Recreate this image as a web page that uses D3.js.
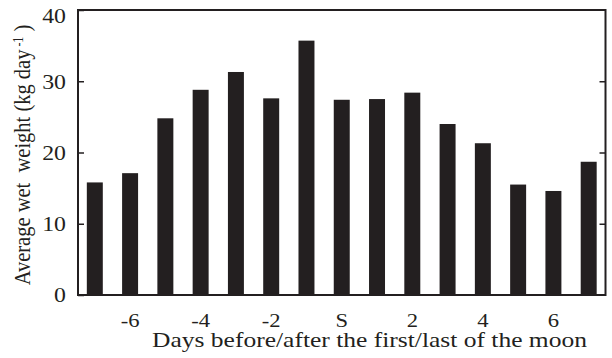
<!DOCTYPE html>
<html>
<head>
<meta charset="utf-8">
<script src="https://cdn.jsdelivr.net/npm/d3@7"></script>
<style>
  body { margin: 0; background: #fff; }
  svg { display: block; }
  text { font-family: "Liberation Serif", "Times New Roman", serif; fill: #231f20; }
</style>
</head>
<body>
<div id="chart"></div>
<script>
// days relative to first/last quarter of the moon
var days = ["-7", "-6", "-5", "-4", "-3", "-2", "-1", "0", "1", "2", "3", "4", "5", "6", "7"];
var weight = [15.8, 17.1, 24.8, 28.8, 31.3, 27.6, 35.7, 27.4, 27.5, 28.4, 24.0, 21.3, 15.5, 14.6, 18.7];
var xTickDays = ["-6", "-4", "-2", "0", "2", "4", "6"];
var xTickText = ["-6", "-4", "-2", "S", "2", "4", "6"];
var yTicks = [0, 10, 20, 30, 40];

var margin = {top: 10, right: 6.5, bottom: 63, left: 78},
    width = 612 - margin.left - margin.right,
    height = 358 - margin.top - margin.bottom;

var ink = "#231f20";
var stretch = 1.16; // the scanned figure is a bit wider than tall

var svg = d3.select("#chart").append("svg")
    .attr("width", 612)
    .attr("height", 358);

var g = svg.append("g")
    .attr("transform", "translate(" + margin.left + "," + margin.top + ")");

var x = d3.scaleBand()
    .domain(days)
    .range([0, width])
    .paddingInner(0.547)
    .paddingOuter(0.25);

var y = d3.scaleLinear()
    .domain([0, 40])
    .range([height, 0]);

// bars
g.selectAll(".bar")
    .data(weight)
    .enter().append("rect")
    .attr("class", "bar")
    .attr("x", function (d, i) { return x(days[i]); })
    .attr("width", x.bandwidth())
    .attr("y", function (d) { return y(d); })
    .attr("height", function (d) { return height - y(d); })
    .style("fill", ink);

// left axis, ticks pointing inward
var yAxis = d3.axisLeft(y)
    .tickValues(yTicks)
    .tickSize(-6);

var yg = g.append("g").call(yAxis);
yg.select(".domain").remove();
yg.selectAll("line").attr("stroke", ink).attr("stroke-width", 1.5);
yg.selectAll("text")
    .attr("x", 0)
    .attr("dy", function (d) { return d == 40 ? "0.6em" : "0.34em"; })
    .attr("transform", "translate(-12,0) scale(" + stretch + ",1)")
    .style("text-anchor", "end")
    .style("font-size", "20.5px");

// right axis
var yAxisR = d3.axisRight(y)
    .tickValues([10, 20, 30])
    .tickSize(-6)
    .tickFormat("");
var yr = g.append("g")
    .attr("transform", "translate(" + width + ",0)")
    .call(yAxisR);
yr.select(".domain").remove();
yr.selectAll("line").attr("stroke", ink).attr("stroke-width", 1.5);

// frame
g.append("rect")
    .attr("x", 0)
    .attr("y", 0)
    .attr("width", width)
    .attr("height", height)
    .attr("fill", "none")
    .attr("stroke", ink)
    .attr("stroke-width", 2);

// x tick labels
var xAxis = d3.axisBottom(x)
    .tickValues(xTickDays)
    .tickSize(0)
    .tickFormat(function (d) { return xTickText[xTickDays.indexOf(d)]; });

var xg = g.append("g")
    .attr("transform", "translate(0," + height + ")")
    .call(xAxis);
xg.select(".domain").remove();
xg.selectAll("text")
    .attr("y", 32)
    .attr("dy", 0)
    .attr("transform", "scale(" + stretch + ",1)")
    .style("font-size", "19.5px");

// x title
svg.append("text")
    .attr("transform", "translate(369.5,346.5) scale(" + stretch + ",1)")
    .style("text-anchor", "middle")
    .style("font-size", "22px")
    .text("Days before/after the first/last of the moon");

// y title
var yt = svg.append("text")
    .attr("transform", "translate(30,155) rotate(-90) scale(1," + stretch + ")")
    .style("text-anchor", "middle")
    .style("font-size", "20.5px")
    .style("white-space", "pre");
yt.append("tspan").text("Average wet  weight (kg day");
yt.append("tspan")
    .attr("baseline-shift", "super")
    .style("font-size", "12px")
    .text(" -1");
yt.append("tspan").text(" )");
</script>
</body>
</html>
